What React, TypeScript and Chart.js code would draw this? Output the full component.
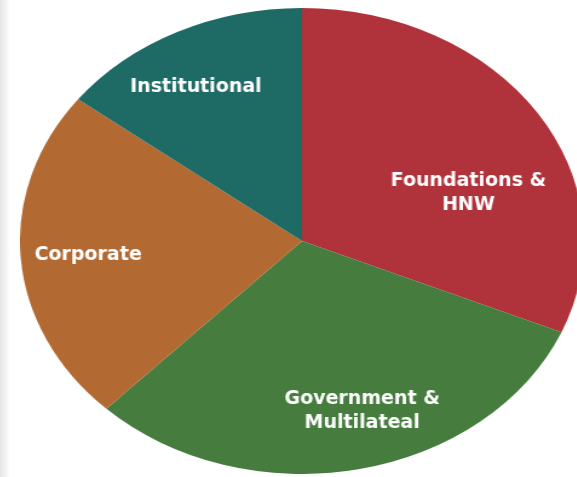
import React, { useEffect, useRef } from "react";
import { Chart, registerables } from "chart.js";

Chart.register(...registerables);

const categories = ["Foundations &\nHNW", "Government &\nMultilateal", "Corporate", "Institutional"];
const shares = [31.4, 30.8, 23.2, 14.6];
const sliceColors = ["#b0323a", "#467d3f", "#b36a32", "#1e6a65"];

// label placement: angle shift from slice middle (deg) and radius fraction
const labelShift = [13, -5, 0.6, -3];
const labelRadius = [0.63, 0.75, 0.76, 0.77];

const SIZE = 466;
const STRETCH = 282 / 233;

const labelPlugin = {
  id: "sliceLabels",
  afterDatasetsDraw(chart: any) {
    const ctx = chart.ctx;
    const meta = chart.getDatasetMeta(0);
    meta.data.forEach((arc: any, i: number) => {
      const { x, y, startAngle, endAngle, outerRadius } = arc.getProps(
        ["x", "y", "startAngle", "endAngle", "outerRadius"],
        true
      );
      const mid = (startAngle + endAngle) / 2 + (labelShift[i] * Math.PI) / 180;
      const r = outerRadius * labelRadius[i];
      const lx = x + Math.cos(mid) * r;
      const ly = y + Math.sin(mid) * r + 3;
      const lines = String(chart.data.labels[i]).split("\n");
      const lh = 24;
      ctx.save();
      ctx.translate(lx, ly);
      ctx.scale(1 / STRETCH, 1);
      ctx.fillStyle = "#ffffff";
      ctx.font = "bold 19px 'DejaVu Sans'";
      ctx.textAlign = "center";
      ctx.textBaseline = "middle";
      lines.forEach((ln, k) => {
        ctx.fillText(ln, 0, (k - (lines.length - 1) / 2) * lh);
      });
      ctx.restore();
    });
  },
};

export default function App() {
  const ref = useRef<HTMLCanvasElement>(null);
  useEffect(() => {
    if (!ref.current) return;
    const chart = new Chart(ref.current, {
      type: "pie",
      data: {
        labels: categories,
        datasets: [
          {
            data: shares,
            backgroundColor: sliceColors,
            borderWidth: 0,
          },
        ],
      },
      options: {
        responsive: false,
        animation: false,
        devicePixelRatio: 1,
        layout: { padding: 0 },
        plugins: {
          legend: { display: false },
          tooltip: { enabled: false },
        },
      },
      plugins: [labelPlugin],
    });
    return () => chart.destroy();
  }, []);

  return (
    <div
      style={{
        position: "fixed",
        left: 0,
        top: 0,
        width: 577,
        height: 477,
        overflow: "hidden",
        background: "#ffffff",
      }}
    >
      <div
        style={{
          position: "absolute",
          left: 0,
          top: 0,
          width: 10,
          height: 477,
          background: "linear-gradient(to right, #e6e6e6, #f4f4f4 60%, #ffffff)",
        }}
      />
      <canvas
        ref={ref}
        width={SIZE}
        height={SIZE}
        style={{
          position: "absolute",
          left: 20,
          top: 8,
          width: SIZE,
          height: SIZE,
          transform: `scaleX(${STRETCH})`,
          transformOrigin: "0 0",
        }}
      />
    </div>
  );
}
